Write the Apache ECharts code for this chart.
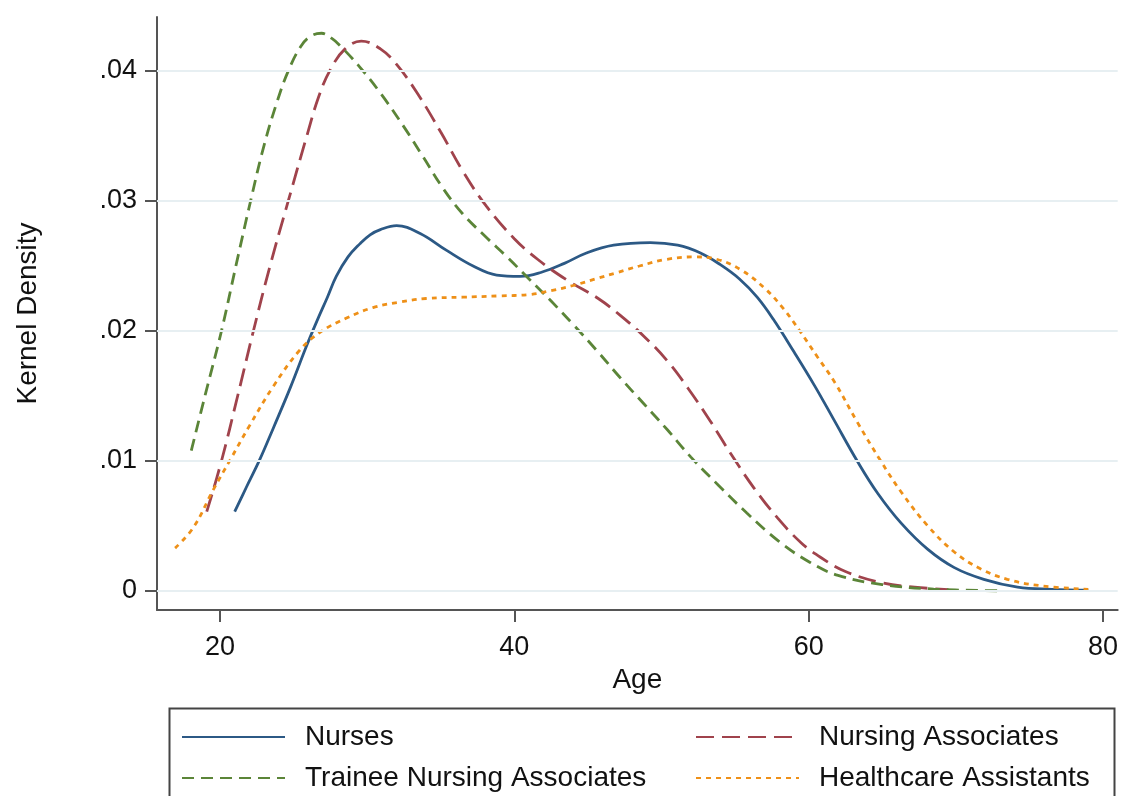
<!DOCTYPE html>
<html>
<head>
<meta charset="utf-8">
<script src="https://cdn.jsdelivr.net/npm/echarts@6/dist/echarts.min.js"></script>
<style>
html,body{margin:0;padding:0;background:#fff;}
#chart{width:1121px;height:796px;}
</style>
</head>
<body>
<div id="chart"></div>
<script>
// ---- data (age, kernel density) ----
const nurses = [
  [21.0,0.0061],[21.8,0.0080],[22.7,0.0101],[23.65,0.0126],[24.8,0.0157],[25.9,0.0189],
  [26.6,0.0208],[27.3,0.0226],[27.9,0.0242],[28.7,0.0257],[29.5,0.0267],[30.2,0.0274],
  [30.9,0.0278],[32.0,0.0281],[33.6,0.0275],[35.4,0.0262],[37.2,0.0250],[38.8,0.0243],
  [40.4,0.0242],[41.8,0.0245],[43.4,0.0252],[44.9,0.0260],[46.75,0.0266],[49.25,0.0268],
  [51.1,0.0266],[52.65,0.0260],[54.0,0.0251],[55.3,0.0240],[56.5,0.0226],[57.6,0.0209],
  [59.0,0.0184],[60.4,0.0158],[61.7,0.0132],[63.3,0.0100],[64.7,0.0075],[66.3,0.0052],
  [68.1,0.0032],[69.9,0.0018],[71.9,0.0009],[74.2,0.0003],[76.5,0.00013],[79.0,0.00006]
];
const nursingAssociates = [
  [19.1,0.0061],[20.1,0.0100],[21.2,0.0150],[22.27,0.0200],[23.4,0.0250],[24.64,0.0300],
  [25.9,0.0350],[26.7,0.0380],[27.5,0.0401],[28.5,0.0417],[29.6,0.0423],[30.9,0.0417],
  [32.0,0.0405],[33.4,0.0383],[35.0,0.0353],[36.55,0.0322],[38.1,0.0296],[40.0,0.0271],
  [41.6,0.0255],[43.6,0.0239],[45.7,0.0225],[47.2,0.0212],[48.8,0.0196],[50.4,0.0177],
  [51.8,0.0156],[53.3,0.0131],[54.8,0.0104],[56.3,0.0079],[57.9,0.0056],[59.5,0.0037],
  [60.8,0.0026],[62.5,0.0015],[65.1,0.0006],[67.2,0.0003],[69.5,0.0001]
];
const traineeNursingAssociates = [
  [18.05,0.0108],[19.0,0.0151],[20.1,0.0200],[21.1,0.0251],[22.08,0.0300],[23.0,0.0343],
  [23.9,0.0377],[24.64,0.0400],[25.5,0.0419],[26.2,0.0427],[26.9,0.0429],[27.6,0.0425],
  [28.2,0.0419],[29.5,0.0403],[30.9,0.0383],[32.5,0.0357],[33.8,0.0334],[35.2,0.0309],
  [36.5,0.0290],[38.0,0.0273],[39.5,0.0257],[41.0,0.0240],[42.5,0.0223],[44.0,0.0205],
  [45.6,0.0185],[47.2,0.0164],[48.8,0.0144],[50.4,0.0124],[52.0,0.0103],[53.9,0.0081],
  [55.8,0.0060],[58.0,0.0038],[60.1,0.0022],[62.0,0.0012],[65.0,0.0005],[68.5,0.00015],[73.0,0.00002]
];
const healthcareAssistants = [
  [16.95,0.0033],[18.2,0.0049],[19.55,0.0078],[20.7,0.0101],[22.0,0.0127],[23.6,0.0157],
  [25.4,0.0185],[26.8,0.0199],[28.6,0.0210],[30.4,0.0218],[32.1,0.0222],[34.0,0.0225],
  [36.5,0.0226],[39.0,0.0227],[41.0,0.0228],[42.5,0.0231],[44.0,0.0235],[45.5,0.0240],
  [47.0,0.0245],[48.5,0.0250],[50.3,0.0255],[52.2,0.0257],[53.8,0.0255],[55.4,0.0247],
  [57.0,0.0233],[58.3,0.0217],[59.4,0.0200],[60.6,0.0180],[61.8,0.0160],[63.3,0.0130],
  [64.9,0.0100],[66.3,0.0076],[68.1,0.0050],[69.9,0.0030],[71.7,0.0017],[73.5,0.0009],
  [75.8,0.0004],[79.0,0.00013]
];
const seriesNames = ['Nurses','Nursing Associates','Trainee Nursing Associates','Healthcare Assistants'];
const xTicks = [20,40,60,80];
const yTicks = [0,0.01,0.02,0.03,0.04];
const yTickLabels = ['0','.01','.02','.03','.04'];
const xTitle = 'Age';
const yTitle = 'Kernel Density';

const FONT = '"Liberation Sans", Arial, sans-serif';
const colors = ['#2c5985','#a0434c','#5b8538','#ee9018'];
const dashes = ['solid',[18,8],[12,7],[5,5]];

const chart = echarts.init(document.getElementById('chart'), null, {renderer:'canvas'});

function lineSeries(i, data){
  return {
    name: seriesNames[i], type:'line', data: data, smooth: 0.4,
    symbol:'none', z: 3,
    lineStyle:{color: colors[i], width: 2.8, type: dashes[i]},
    itemStyle:{color: colors[i]},
    animation:false
  };
}
const yLabelMap = {};
yTicks.forEach((v,k)=>{ yLabelMap[v.toFixed(2)] = yTickLabels[k]; });

function legendCol(names, left){
  return {
    data: names, orient:'vertical', left: left, top: 723, padding: 0,
    itemWidth: 103, itemHeight: 14, itemGap: 13,
    itemStyle: {opacity: 0},
    textStyle: {fontFamily: FONT, fontSize: 28, color: '#111', lineHeight: 28, padding: [0,0,0,15]},
    selectedMode: false
  };
}

const option = {
  backgroundColor:'#fff',
  animation:false,
  grid:{left:157, right:3, top:17, bottom:186, containLabel:false},
  xAxis:{
    type:'value', min:15.72, max:81.0,
    name:xTitle, nameLocation:'middle', nameGap:52,
    nameTextStyle:{fontFamily:FONT, fontSize:28, color:'#111'},
    axisLine:{show:true, onZero:false, lineStyle:{color:'#555', width:2}},
    axisTick:{show:true, length:12, customValues:xTicks, lineStyle:{color:'#555', width:2}},
    axisLabel:{customValues:xTicks, fontFamily:FONT, fontSize:27, color:'#111', margin:24},
    splitLine:{show:false}
  },
  yAxis:{
    type:'value', min:-0.00146, max:0.04415,
    name:yTitle, nameLocation:'middle', nameRotate:90, nameGap:115,
    nameTextStyle:{fontFamily:FONT, fontSize:28, color:'#111'},
    axisLine:{show:true, onZero:false, lineStyle:{color:'#555', width:2}},
    axisTick:{show:true, length:12, customValues:yTicks, lineStyle:{color:'#555', width:2}},
    axisLabel:{customValues:yTicks, fontFamily:FONT, fontSize:27, color:'#111', margin:20,
      formatter:(v)=> yLabelMap[v.toFixed(2)] !== undefined ? yLabelMap[v.toFixed(2)] : String(v)},
    splitLine:{show:false}
  },
  legend:[
    legendCol([seriesNames[0], seriesNames[2]], 181),
    legendCol([seriesNames[1], seriesNames[3]], 695)
  ],
  graphic:[
    {type:'rect', left:167, top:706, shape:{x:0,y:0,width:945,height:110},
     style:{fill:'none', stroke:'#444', lineWidth:2}, z:0, silent:true}
  ],
  series:[
    {
      name:'grid', type:'line', data:[], z:1, silent:true,
      markLine:{
        silent:true, symbol:['none','none'], label:{show:false}, animation:false,
        lineStyle:{type:'solid', color:'#e7eff2', width:2},
        data: yTicks.map(v=>({yAxis:v}))
      }
    },
    lineSeries(0, nurses),
    lineSeries(1, nursingAssociates),
    lineSeries(2, traineeNursingAssociates),
    lineSeries(3, healthcareAssistants)
  ]
};
chart.setOption(option);
</script>
</body>
</html>
